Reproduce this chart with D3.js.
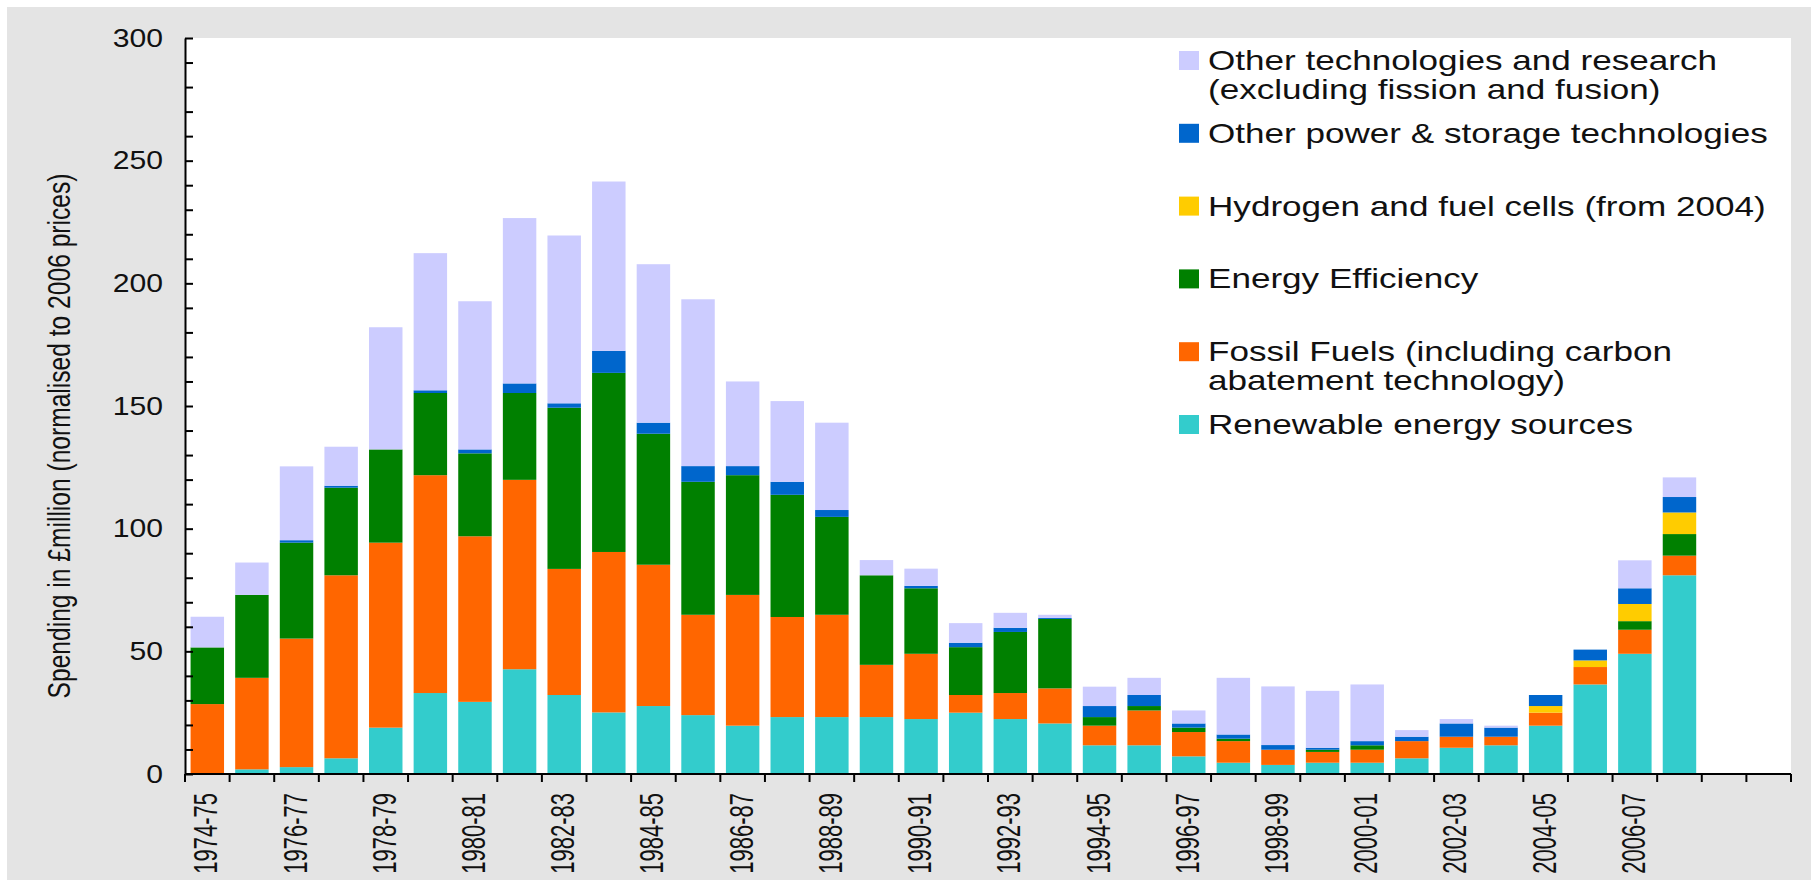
<!DOCTYPE html>
<meta charset="utf-8">
<script src="https://cdn.jsdelivr.net/npm/d3@7"></script>
<style>
body { margin: 0; background: #fff; }
text { font-family: Arial, "Liberation Sans", sans-serif; fill: #111; }
</style>
<body>
<script>

// financial years shown as bars, plus two empty slots at the end of the axis
var years = ["1974-75", "1975-76", "1976-77", "1977-78", "1978-79", "1979-80", "1980-81", "1981-82",
             "1982-83", "1983-84", "1984-85", "1985-86", "1986-87", "1987-88", "1988-89", "1989-90",
             "1990-91", "1991-92", "1992-93", "1993-94", "1994-95", "1995-96", "1996-97", "1997-98",
             "1998-99", "1999-00", "2000-01", "2001-02", "2002-03", "2003-04", "2004-05", "2005-06",
             "2006-07", "2007-08"];
var emptySlots = ["2008-09", "2009-10"];

// spending in £million (2006 prices)
var renewable  = [0, 1.9, 2.8, 6.4, 18.9, 33.0, 29.4, 42.7, 32.2, 25.1, 27.7, 24.0, 19.7, 23.2, 23.2, 23.2, 22.4,
                  25.0, 22.4, 20.6, 11.7, 11.7, 7.2, 4.6, 3.7, 4.6, 4.6, 6.4, 10.7, 11.7, 19.7, 36.5, 49.0, 81.0];
var fossil     = [28.5, 37.3, 52.4, 74.6, 75.4, 88.8, 67.5, 77.2, 51.4, 65.4, 57.6, 40.9, 53.3, 40.8, 41.7, 21.3, 26.6,
                  7.2, 10.6, 14.3, 8.0, 14.2, 9.9, 8.8, 6.2, 4.4, 5.3, 7.0, 4.5, 3.5, 5.3, 7.1, 9.8, 8.0];
var efficiency = [23.1, 33.8, 39.1, 35.7, 38.0, 33.5, 33.8, 35.4, 65.7, 73.0, 53.4, 54.2, 48.8, 49.8, 39.9, 36.5, 26.7,
                  19.5, 24.9, 28.3, 3.5, 1.8, 1.8, 1.0, 0, 0.9, 1.8, 0, 0, 0, 0, 0, 3.5, 8.8];
var hydrogen   = [0, 0, 0, 0, 0, 0, 0, 0, 0, 0, 0, 0, 0, 0, 0, 0, 0,
                  0, 0, 0, 0, 0, 0, 0, 0, 0, 0, 0, 0, 0, 2.7, 2.7, 7.0, 8.8];
var otherPower = [0, 0, 1.0, 0.8, 0, 1.1, 1.6, 3.9, 1.8, 9.0, 4.5, 6.4, 3.7, 5.3, 2.8, 0, 1.0,
                  1.8, 1.7, 0.4, 4.5, 4.5, 1.7, 1.7, 1.9, 0.8, 1.7, 1.8, 5.4, 3.7, 4.5, 4.4, 6.4, 6.3];
var otherTech  = [12.5, 13.2, 30.1, 15.9, 49.8, 55.9, 60.4, 67.4, 68.4, 69.0, 64.6, 68.0, 34.5, 32.9, 35.6, 6.2, 7.0,
                  8.0, 6.1, 1.3, 7.9, 7.0, 5.3, 23.1, 23.9, 23.2, 23.1, 2.7, 1.8, 0.8, 0, 0, 11.4, 8.0];

var keys = ["renewable", "fossil", "efficiency", "hydrogen", "otherPower", "otherTech"];
var colors = ["#33cccc", "#ff6600", "#008000", "#ffcc00", "#0066cc", "#ccccff"];

// legend, top to bottom
var legendKeys = ["otherTech", "otherPower", "hydrogen", "efficiency", "fossil", "renewable"];
var legendLabels = [["Other technologies and research", "(excluding fission and fusion)"],
                    ["Other power & storage technologies"],
                    ["Hydrogen and fuel cells (from 2004)"],
                    ["Energy Efficiency"],
                    ["Fossil Fuels (including carbon", "abatement technology)"],
                    ["Renewable energy sources"]];

var yTicks = d3.range(0, 301, 10);
var yTitle = "Spending in £million (normalised to 2006 prices)";

var width = 1811,
    height = 880;

var plot = {left: 185, right: 1791, top: 38, bottom: 774};

var svg = d3.select("body").append("svg")
    .attr("width", width)
    .attr("height", height);

// grey panel and white plotting area
svg.append("rect")
    .attr("x", 7).attr("y", 7)
    .attr("width", width - 7).attr("height", height - 7)
    .attr("fill", "#e4e4e4");

svg.append("rect")
    .attr("x", plot.left).attr("y", plot.top)
    .attr("width", plot.right - plot.left).attr("height", plot.bottom - plot.top)
    .attr("fill", "#fff");

var x = d3.scaleBand()
    .domain(years.concat(emptySlots))
    .range([plot.left, plot.right])
    .paddingInner(0.25)
    .paddingOuter(0.125);

var y = d3.scaleLinear()
    .domain([0, 300])
    .range([plot.bottom, plot.top]);

var series = {renewable: renewable, fossil: fossil, efficiency: efficiency,
              hydrogen: hydrogen, otherPower: otherPower, otherTech: otherTech};

var rows = years.map(function(yr, i) {
  var row = {year: yr};
  keys.forEach(function(k) { row[k] = series[k][i]; });
  return row;
});

var stacked = d3.stack().keys(keys)(rows);

// the bars
svg.append("g")
    .selectAll("g")
    .data(stacked)
    .enter().append("g")
    .attr("fill", function(d, i) { return colors[i]; })
    .selectAll("rect")
    .data(function(d) { return d; })
    .enter().append("rect")
    .attr("x", function(d) { return x(d.data.year); })
    .attr("y", function(d) { return y(d[1]); })
    .attr("width", x.bandwidth())
    .attr("height", function(d) { return y(d[0]) - y(d[1]); });

// y axis, ticks pointing inwards, labels every 50
var yAxis = d3.axisLeft(y)
    .tickValues(yTicks)
    .tickSize(-8)
    .tickSizeOuter(0)
    .tickPadding(19)
    .tickFormat(function(d) { return d % 50 === 0 ? d : ""; });

var gy = svg.append("g")
    .attr("transform", "translate(" + plot.left + ",0)")
    .call(yAxis);

gy.selectAll("path, line").attr("stroke", "#000").attr("stroke-width", 2);
gy.selectAll("text")
    .attr("font-size", 26)
    .attr("font-family", "Arial, 'Liberation Sans', sans-serif")
    .attr("fill", "#111")
    .attr("transform", "scale(1.16,1)");

// x axis: line plus ticks on the category boundaries
var nSlots = x.domain().length;
var gx = svg.append("g");

gx.append("line")
    .attr("x1", plot.left).attr("x2", plot.right)
    .attr("y1", plot.bottom).attr("y2", plot.bottom)
    .attr("stroke", "#000").attr("stroke-width", 2);

gx.selectAll(".xtick")
    .data(d3.range(nSlots + 1))
    .enter().append("line")
    .attr("class", "xtick")
    .attr("x1", function(i) { return plot.left + i * x.step(); })
    .attr("x2", function(i) { return plot.left + i * x.step(); })
    .attr("y1", plot.bottom)
    .attr("y2", plot.bottom + 8)
    .attr("stroke", "#000").attr("stroke-width", 2);

// every other year gets a label
gx.selectAll("text")
    .data(years.filter(function(d, i) { return i % 2 === 0; }))
    .enter().append("text")
    .attr("transform", function(d) {
      return "translate(" + (x(d) + x.bandwidth() / 2 + 10) + "," + (plot.bottom + 19) + ") scale(1.5,1) rotate(-90)";
    })
    .attr("text-anchor", "end")
    .style("font-size", "22px")
    .text(function(d) { return d; });

// y axis title
svg.append("text")
    .attr("transform", "translate(70,436) scale(1.3,1) rotate(-90)")
    .attr("text-anchor", "middle")
    .style("font-size", "24.6px")
    .text(yTitle);

// legend
var legend = svg.append("g")
    .selectAll("g")
    .data(legendKeys)
    .enter().append("g")
    .attr("transform", function(d, i) { return "translate(1179," + (51 + i * 72.8) + ")"; });

legend.append("rect")
    .attr("width", 20)
    .attr("height", 19)
    .attr("fill", function(d) { return colors[keys.indexOf(d)]; });

legend.each(function(d, i) {
  var g = d3.select(this).append("g").attr("transform", "translate(29,19) scale(1.3,1)");
  legendLabels[i].forEach(function(line, j) {
    g.append("text")
        .attr("y", j * 29)
        .style("font-size", "27px")
        .text(line);
  });
});

</script>
</body>
